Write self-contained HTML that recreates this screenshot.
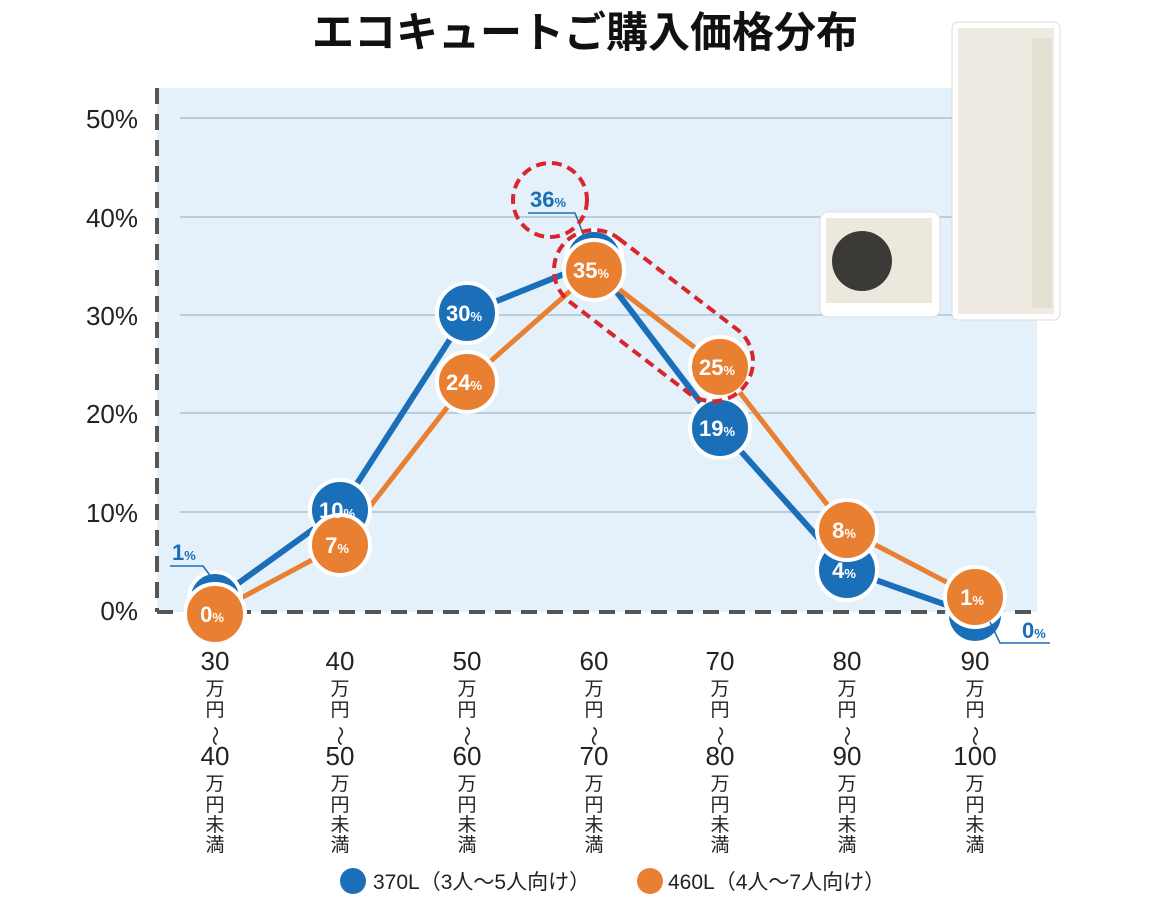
<!DOCTYPE html>
<html><head><meta charset="utf-8"><style>
body{margin:0;background:#fff;}
svg{display:block;font-family:"Liberation Sans","Noto Sans CJK JP",sans-serif;}
</style></head><body>
<svg width="1170" height="916" viewBox="0 0 1170 916" xmlns="http://www.w3.org/2000/svg">
<text x="585" y="47" text-anchor="middle" font-size="42" font-weight="bold" fill="#111" font-family="'Noto Sans CJK JP',sans-serif">エコキュートご購入価格分布</text>
<rect x="157" y="88" width="880" height="524" fill="#e4f1fa"/>
<g stroke="#a9c3d6" stroke-width="1.5">
<line x1="180" y1="118" x2="1035" y2="118"/><line x1="180" y1="217" x2="1035" y2="217"/><line x1="180" y1="315" x2="1035" y2="315"/><line x1="180" y1="413" x2="1035" y2="413"/><line x1="180" y1="512" x2="1035" y2="512"/>
</g>
<g stroke="#555" stroke-width="4" stroke-dasharray="16,10" fill="none">
<line x1="157" y1="88" x2="157" y2="612"/><line x1="157" y1="612" x2="1040" y2="612"/>
</g>
<g font-size="26" fill="#222" text-anchor="end">
<text x="138" y="128">50%</text><text x="138" y="227">40%</text><text x="138" y="325">30%</text><text x="138" y="423">20%</text><text x="138" y="522">10%</text><text x="138" y="620">0%</text>
</g>
<!-- product images -->
<rect x="952" y="22" width="108" height="298" rx="6" fill="#fff" stroke="#ddd" stroke-width="1"/>
<rect x="958" y="28" width="96" height="286" fill="#efebe2"/>
<rect x="1032" y="38" width="20" height="270" fill="#e4dfd3"/>
<rect x="820" y="212" width="120" height="105" rx="8" fill="#fff" stroke="#ddd"/>
<rect x="826" y="218" width="106" height="85" fill="#ece8de"/>
<circle cx="862" cy="261" r="30" fill="#3c3a36"/>
<!-- lines -->
<polyline points="215,600 340,510 467,313 594,262 720,428 847,570 975,615" fill="none" stroke="#1a6fb8" stroke-width="6"/>
<polyline points="215,612 340,545 467,382 594,270 720,367 847,530 975,597" fill="none" stroke="#e97f31" stroke-width="5"/>
<!-- blue circles -->
<g fill="#1a6fb8" stroke="#fff" stroke-width="4">
<circle cx="215" cy="598" r="26"/><circle cx="340" cy="510" r="30"/><circle cx="467" cy="313" r="30"/><circle cx="594" cy="258" r="28"/><circle cx="720" cy="428" r="30"/><circle cx="847" cy="570" r="30"/><circle cx="975" cy="615" r="28"/>
</g>
<g fill="#e97f31" stroke="#fff" stroke-width="4">
<circle cx="215" cy="614" r="30"/><circle cx="340" cy="545" r="30"/><circle cx="467" cy="382" r="30"/><circle cx="594" cy="270" r="30"/><circle cx="720" cy="367" r="30"/><circle cx="847" cy="530" r="30"/><circle cx="975" cy="597" r="30"/>
</g>
<g fill="#fff" font-weight="bold" text-anchor="middle" font-size="22">
<text x="337" y="518">10<tspan font-size="13">%</tspan></text>
<text x="464" y="321">30<tspan font-size="13">%</tspan></text>
<text x="717" y="436">19<tspan font-size="13">%</tspan></text>
<text x="844" y="578">4<tspan font-size="13">%</tspan></text>
<text x="212" y="622">0<tspan font-size="13">%</tspan></text>
<text x="337" y="553">7<tspan font-size="13">%</tspan></text>
<text x="464" y="390">24<tspan font-size="13">%</tspan></text>
<text x="591" y="278">35<tspan font-size="13">%</tspan></text>
<text x="717" y="375">25<tspan font-size="13">%</tspan></text>
<text x="844" y="538">8<tspan font-size="13">%</tspan></text>
<text x="972" y="605">1<tspan font-size="13">%</tspan></text>
</g>
<g fill="#1a6fb8" font-weight="bold" font-size="22">
<text x="172" y="560">1<tspan font-size="13">%</tspan></text>
<text x="1022" y="638">0<tspan font-size="13">%</tspan></text>
<text x="530" y="207">36<tspan font-size="13">%</tspan></text>
</g>
<g stroke="#1a6fb8" stroke-width="1.5" fill="none">
<polyline points="170,566 203,566 212,578"/>
<polyline points="990,622 1000,643 1050,643"/>
<polyline points="528,213 575,213 584,236"/>
</g>
<!-- red dashed highlights -->
<g stroke="#d8262c" stroke-width="4" stroke-dasharray="10,6" fill="none">
<circle cx="550" cy="200" r="37"/>
<rect x="-40" y="-40" width="230" height="80" rx="40" transform="translate(594,270) rotate(37.5) translate(0,0)"/>
</g>
<!-- x labels -->
<g fill="#222" text-anchor="middle">
<g font-size="26">
<text x="215" y="670">30</text><text x="215" y="765">40</text>
<text x="340" y="670">40</text><text x="340" y="765">50</text>
<text x="467" y="670">50</text><text x="467" y="765">60</text>
<text x="594" y="670">60</text><text x="594" y="765">70</text>
<text x="720" y="670">70</text><text x="720" y="765">80</text>
<text x="847" y="670">80</text><text x="847" y="765">90</text>
<text x="975" y="670">90</text><text x="975" y="765">100</text>
</g>
<g font-size="19" font-family="'Noto Sans CJK JP',sans-serif">
<text x="215" y="695">万</text><text x="215" y="716">円</text><text x="215" y="790">万</text><text x="215" y="811">円</text><text x="215" y="831">未</text><text x="215" y="851">満</text>
<text x="340" y="695">万</text><text x="340" y="716">円</text><text x="340" y="790">万</text><text x="340" y="811">円</text><text x="340" y="831">未</text><text x="340" y="851">満</text>
<text x="467" y="695">万</text><text x="467" y="716">円</text><text x="467" y="790">万</text><text x="467" y="811">円</text><text x="467" y="831">未</text><text x="467" y="851">満</text>
<text x="594" y="695">万</text><text x="594" y="716">円</text><text x="594" y="790">万</text><text x="594" y="811">円</text><text x="594" y="831">未</text><text x="594" y="851">満</text>
<text x="720" y="695">万</text><text x="720" y="716">円</text><text x="720" y="790">万</text><text x="720" y="811">円</text><text x="720" y="831">未</text><text x="720" y="851">満</text>
<text x="847" y="695">万</text><text x="847" y="716">円</text><text x="847" y="790">万</text><text x="847" y="811">円</text><text x="847" y="831">未</text><text x="847" y="851">満</text>
<text x="975" y="695">万</text><text x="975" y="716">円</text><text x="975" y="790">万</text><text x="975" y="811">円</text><text x="975" y="831">未</text><text x="975" y="851">満</text>
</g>
<g font-size="20" font-family="'Noto Sans CJK JP',sans-serif">
<text transform="translate(215,736) rotate(90)" dy="7">～</text>
<text transform="translate(340,736) rotate(90)" dy="7">～</text>
<text transform="translate(467,736) rotate(90)" dy="7">～</text>
<text transform="translate(594,736) rotate(90)" dy="7">～</text>
<text transform="translate(720,736) rotate(90)" dy="7">～</text>
<text transform="translate(847,736) rotate(90)" dy="7">～</text>
<text transform="translate(975,736) rotate(90)" dy="7">～</text>
</g>
</g>
<!-- legend -->
<circle cx="353" cy="881" r="13" fill="#1a6fb8"/>
<text x="373" y="889" font-size="21" fill="#222" font-family="'Liberation Sans','Noto Sans CJK JP',sans-serif">370L（3人～5人向け）</text>
<circle cx="650" cy="881" r="13" fill="#e97f31"/>
<text x="668" y="889" font-size="21" fill="#222" font-family="'Liberation Sans','Noto Sans CJK JP',sans-serif">460L（4人～7人向け）</text>
</svg>
</body></html>
